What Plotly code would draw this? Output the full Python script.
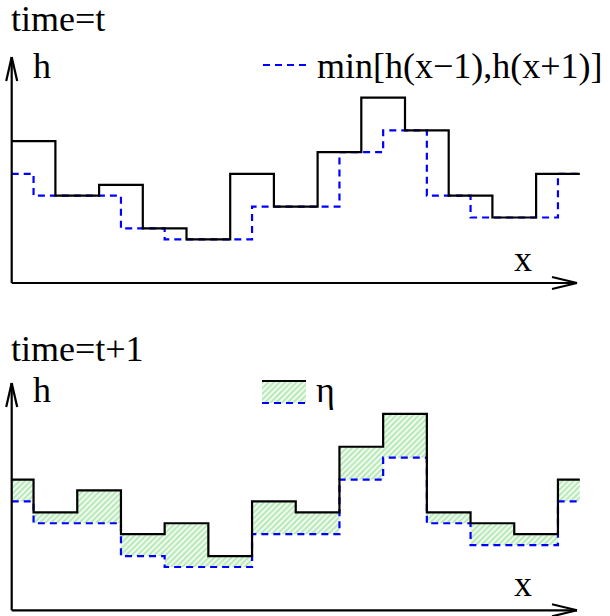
import plotly.graph_objects as go

# ---- data (heights in lattice units) ----
sites = list(range(13))                                   # column index
h_t = [13, 8, 9, 5, 4, 10, 7, 12, 17, 14, 8, 6, 10]       # h(x) at time t
h_min = [10, 8, 8, 5, 4, 4, 7, 7, 12, 14, 8, 6, 6, 10]    # min[h(x-1),h(x+1)] (half-shifted sites)
h_t1 = [12, 9, 11, 7, 8, 5, 10, 9, 15, 18, 9, 8, 7, 12]   # h at time t+1 (half-shifted sites)

top_title = "time=t"
bottom_title = "time=t+1"
min_label = "min[h(x\u22121),h(x+1)]"
eta_label = "\u03b7"

# step edges
x_full = sites + [len(sites)]
x_half = [0] + [s + 0.5 for s in sites] + [len(sites)]
y_top = h_t + [h_t[-1]]
y_min = h_min + [h_min[-1]]
y_next = h_t1 + [h_t1[-1]]

W, H = 610, 616
FONT = "Liberation Serif, Times New Roman, Times, serif"
BLACK = "#000000"
BLUE = "#0000ff"
DASH = "7px,5px"
LW = 2.2
PATTERN = dict(shape="/", fgcolor="#74d474", bgcolor="#f4fcf4", size=4, solidity=0.5)

fig = go.Figure()

# top panel
fig.add_trace(go.Scatter(x=x_half, y=y_min, mode="lines", line=dict(color=BLUE, width=LW, dash=DASH, shape="hv"),
                         xaxis="x", yaxis="y", hoverinfo="skip", showlegend=False))
fig.add_trace(go.Scatter(x=x_full, y=y_top, mode="lines", line=dict(color=BLACK, width=LW, shape="hv"),
                         xaxis="x", yaxis="y", hoverinfo="skip", showlegend=False))

# bottom panel: fill between min and new height
fig.add_trace(go.Scatter(x=x_half, y=y_min, mode="lines", line=dict(width=0, shape="hv"),
                         xaxis="x2", yaxis="y2", hoverinfo="skip", showlegend=False))
fig.add_trace(go.Scatter(x=x_half, y=y_next, mode="lines", line=dict(width=0, shape="hv"),
                         fill="tonexty", fillcolor="rgba(0,0,0,0)", fillpattern=PATTERN,
                         xaxis="x2", yaxis="y2", hoverinfo="skip", showlegend=False))
fig.add_trace(go.Scatter(x=x_half, y=y_min, mode="lines", line=dict(color=BLUE, width=LW, dash=DASH, shape="hv"),
                         xaxis="x2", yaxis="y2", hoverinfo="skip", showlegend=False))
fig.add_trace(go.Scatter(x=x_half, y=y_next, mode="lines", line=dict(color=BLACK, width=LW, shape="hv"),
                         xaxis="x2", yaxis="y2", hoverinfo="skip", showlegend=False))

# legend swatch (hatched) for eta, in overlay pixel axes
fig.add_trace(go.Scatter(x=[262, 306, 306, 262, 262], y=[381, 381, 403, 403, 381], mode="lines",
                         line=dict(width=0), fill="toself", fillcolor="rgba(0,0,0,0)", fillpattern=PATTERN,
                         xaxis="x3", yaxis="y3", hoverinfo="skip", showlegend=False))

shapes = []
def seg(x0, y0, x1, y1, color=BLACK, width=LW, dash=None):
    d = dict(type="line", xref="x3", yref="y3", x0=x0, y0=y0, x1=x1, y1=y1,
             line=dict(color=color, width=width))
    if dash:
        d["line"]["dash"] = dash
    shapes.append(d)

for base, tip in [(283, 57), (610.3, 383)]:
    ax_x = 11.7
    seg(ax_x, base, ax_x, tip)
    seg(ax_x, tip, ax_x - 5.5, tip + 24)
    seg(ax_x, tip, ax_x + 5.5, tip + 24)
    seg(ax_x, base, 577, base)
    seg(577, base, 552, base - 6)
    seg(577, base, 552, base + 6)

# legends
seg(263, 65, 307, 65, color=BLUE, dash=DASH)
seg(262, 381, 306, 381)
seg(262, 403, 306, 403, color=BLUE, dash=DASH)

annotations = []
def text(x, baseline, s, size=36):
    annotations.append(dict(x=x, y=baseline + 0.22 * size, xref="x3", yref="y3", text=s,
                            showarrow=False, xanchor="left", yanchor="bottom",
                            borderpad=0, font=dict(family=FONT, size=size, color=BLACK)))

text(10, 32, top_title)
text(32, 79, "h")
text(316, 79, min_label)
text(513, 272, "x")
text(10, 362, bottom_title)
text(32, 403, "h")
text(315, 403, eta_label)
text(513, 597, "x")

hidden = dict(visible=False, showgrid=False, zeroline=False, fixedrange=True)
fig.update_layout(
    width=W, height=H, margin=dict(l=0, r=0, t=0, b=0),
    paper_bgcolor="white", plot_bgcolor="rgba(0,0,0,0)",
    xaxis=dict(domain=[0, 1], range=[-11.7 / 43.7, (W - 11.7) / 43.7], anchor="y", **hidden),
    yaxis=dict(domain=[0.5, 1], range=[(282.9 - 308) / 10.9, 282.9 / 10.9], anchor="x", **hidden),
    xaxis2=dict(domain=[0, 1], range=[-11.7 / 43.7, (W - 11.7) / 43.7], anchor="y2", **hidden),
    yaxis2=dict(domain=[0, 0.5], range=[(610.7 - 616) / 10.93, (610.7 - 308) / 10.93], anchor="x2", **hidden),
    xaxis3=dict(domain=[0, 1], range=[0, W], anchor="y3", **hidden),
    yaxis3=dict(domain=[0, 1], range=[H, 0], anchor="x3", **hidden),
    shapes=shapes, annotations=annotations,
)

fig.write_html("out.html", config={"displayModeBar": False},
               post_script="document.body.style.margin='0';document.body.style.overflow='hidden';")
